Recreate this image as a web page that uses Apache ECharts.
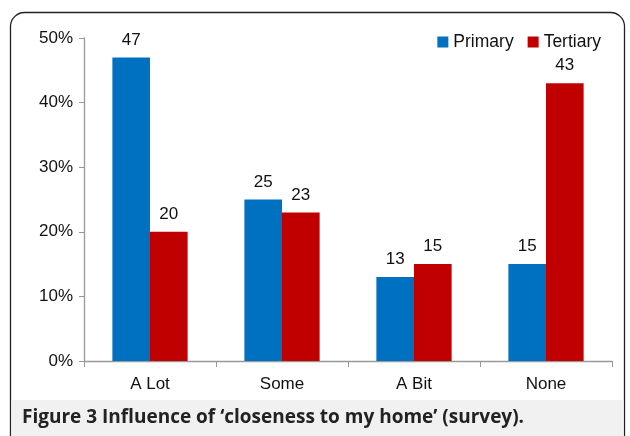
<!DOCTYPE html>
<html><head><meta charset="utf-8">
<script src="https://cdn.jsdelivr.net/npm/echarts@6/dist/echarts.min.js"></script>
<style>html,body{margin:0;padding:0;background:#fff}#c{width:630px;height:436px}</style>
</head><body><div id="c"></div>
<script>
var categories = ['A Lot', 'Some', 'A Bit', 'None'];
var primary = [47, 25, 13, 15];
var tertiary = [20, 23, 15, 43];
var yTicks = [0, 10, 20, 30, 40, 50];
var caption = 'Figure 3 Influence of \u2018closeness to my home\u2019 (survey).';

var chart = echarts.init(document.getElementById('c'), null, {renderer: 'canvas'});
var font = 'Liberation Sans, Arial, sans-serif';
chart.setOption({
  animation: false,
  backgroundColor: '#fff',
  graphic: [
    {type: 'rect', z: -10, shape: {x: 10.5, y: 12.5, width: 614, height: 440, r: 14}, style: {fill: '#fff', stroke: '#222', lineWidth: 1.3}},
    {type: 'rect', z: -9, shape: {x: 11.5, y: 400, width: 612, height: 36}, style: {fill: '#f1f1f1'}},
    {type: 'text', left: 22, top: 408, style: {text: caption, font: 'bold 19px "Open Sans", "DejaVu Sans", sans-serif', fill: '#222'}}
  ],
  legend: {
    top: 28, right: 24, itemWidth: 11, itemHeight: 11, itemGap: 14,
    icon: 'rect',
    textStyle: {fontFamily: font, fontSize: 17.5, color: '#111', padding: [0, 0, 0, 0]},
    data: ['Primary', 'Tertiary']
  },
  grid: {left: 84, right: 18, top: 38, bottom: 75},
  xAxis: {
    type: 'category', data: categories,
    axisLine: {lineStyle: {color: '#999', width: 1.3}},
    axisTick: {show: true, length: 6, lineStyle: {color: '#999'}},
    axisLabel: {fontFamily: font, fontSize: 17, color: '#111', margin: 15}
  },
  yAxis: {
    type: 'value', min: yTicks[0], max: yTicks[yTicks.length - 1], interval: 10,
    splitLine: {show: false},
    axisLine: {show: true, lineStyle: {color: '#999', width: 1.3}},
    axisTick: {show: true, length: 5, lineStyle: {color: '#999'}},
    axisLabel: {fontFamily: font, fontSize: 17, color: '#111', margin: 11, formatter: '{value}%'}
  },
  series: [
    {name: 'Primary', type: 'bar', data: primary, barGap: '0%', barCategoryGap: '43%',
     itemStyle: {color: '#0070c0'},
     label: {show: true, position: 'top', distance: 9, fontFamily: font, fontSize: 17, color: '#111'}},
    {name: 'Tertiary', type: 'bar', data: tertiary, barGap: '0%', barCategoryGap: '43%',
     itemStyle: {color: '#c00000'},
     label: {show: true, position: 'top', distance: 9, fontFamily: font, fontSize: 17, color: '#111'}}
  ]
});
</script></body></html>
